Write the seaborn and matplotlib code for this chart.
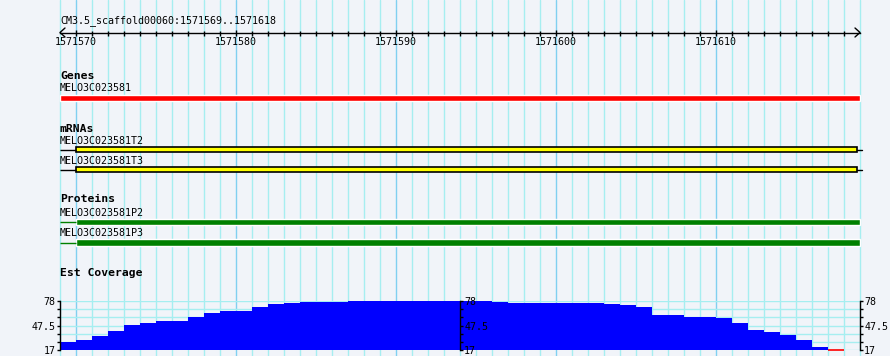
import numpy as np
import pandas as pd
import matplotlib
matplotlib.use('Agg')
import matplotlib.pyplot as plt
import seaborn as sns

# view window
ref_name = 'CM3.5_scaffold00060'
view_start = 1571569
view_end = 1571618
ruler_labels = [1571570, 1571580, 1571590, 1571600, 1571610]

# features
gene_names = ['MELO3C023581']
gene_starts = [1571569]
gene_ends = [1571619]

mrna_names = ['MELO3C023581T2', 'MELO3C023581T3']
mrna_starts = [1571569, 1571569]
mrna_box_starts = [1571570, 1571570]
mrna_ends = [1571619, 1571619]

protein_names = ['MELO3C023581P2', 'MELO3C023581P3']
protein_starts = [1571569, 1571569]
protein_box_starts = [1571570, 1571570]
protein_ends = [1571619, 1571619]

# est coverage, one value per base from view_start
cov_min = 17
cov_mid = 47.5
cov_max = 78
coverage = [27, 29.5, 35, 41, 48.5, 51, 52.5, 53.5, 58.5, 63.5,
            66, 66, 71, 74.5, 76, 76.5, 77, 77, 77.5, 78,
            78, 78, 78, 78, 78, 78, 78, 77, 76, 76,
            76, 76, 76, 76, 74.5, 73, 70.5, 61, 61, 58.5,
            58.5, 57, 51, 42, 39, 36, 29.5, 21, 17]

bg = '#F1F4F9'
minor_c = '#A6EEF0'
major_c = '#80D0F0'

sns.set_style('white')
plt.rcParams['font.family'] = ['DejaVu Sans Mono']
plt.rcParams['text.color'] = 'black'
plt.rcParams['xtick.labelcolor'] = 'black'
plt.rcParams['ytick.labelcolor'] = 'black'
small = 7.2
bold = 8.2

W, H = 890, 356
fig = plt.figure(figsize=(W / 100, H / 100), dpi=100)
fig.patch.set_facecolor(bg)

# main canvas: x in bases, y in pixels from the top
ax = fig.add_axes([0, 0, 1, 1])
ax.set_xlim(view_start - 60 / 16, view_start + (W - 60) / 16)
ax.set_ylim(H, 0)
ax.set_facecolor(bg)
ax.set_xticks(ruler_labels)
ax.set_xticks([p for p in range(view_start, view_end + 2) if p not in ruler_labels], minor=True)
ax.grid(which='minor', axis='x', color=minor_c, lw=1)
ax.grid(which='major', axis='x', color=major_c, lw=1)
ax.tick_params(which='both', length=0, labelbottom=False, labelleft=False)
for s in ax.spines.values():
    s.set_visible(False)
ax.set_axisbelow(True)

# title and ruler
ax.text(view_start, 21, f'{ref_name}:{view_start}..{view_end}', fontsize=small,
        va='center', ha='left')
ax.plot([view_start + 5 / 16, view_start, view_start + 5 / 16], [28, 32.5, 37], color='k', lw=1)
ax.plot([view_end + 1 - 5 / 16, view_end + 1, view_end + 1 - 5 / 16], [28, 32.5, 37], color='k', lw=1)

ruler = fig.add_axes([60 / W, 1 - 33 / H, 800 / W, 1 / H])
ruler.patch.set_visible(False)
ruler.set_xlim(view_start, view_end + 1)
for k in ['top', 'left', 'right']:
    ruler.spines[k].set_visible(False)
ruler.spines['bottom'].set_linewidth(1)
ruler.spines['bottom'].set_color('k')
ruler.set_yticks([])
ruler.set_xticks(ruler_labels)
ruler.set_xticklabels([str(v) for v in ruler_labels])
ruler.set_xticks([p for p in range(view_start + 1, view_end + 1) if p not in ruler_labels], minor=True)
ruler.tick_params(which='major', bottom=True, direction='inout', length=5, width=1, pad=0.5,
                  labelsize=small, color='k')
ruler.tick_params(which='minor', bottom=True, direction='inout', length=3.6, width=1, color='k')

# Genes
ax.text(view_start, 76, 'Genes', fontsize=bold, fontweight='bold', va='center')
for name, s, e in zip(gene_names, gene_starts, gene_ends):
    ax.text(view_start, 88, name, fontsize=small, va='center')
    ax.barh(97.7, e - s, left=s, height=6, color='#FF0000')

# mRNAs
ax.text(view_start, 128.5, 'mRNAs', fontsize=bold, fontweight='bold', va='center')
for i, (name, s, bs, e) in enumerate(zip(mrna_names, mrna_starts, mrna_box_starts, mrna_ends)):
    ty = 140.5 + i * 20
    yc = 149.7 + i * 20
    ax.text(view_start, ty, name, fontsize=small, va='center')
    ax.hlines(yc, s, bs, color='k', lw=1)
    ax.barh(yc, e - bs - 0.2, left=bs, height=4.5, color='#FFFF00', edgecolor='k', lw=1.2)
    ax.plot([e - 0.2, e + 0.15], [yc, yc], color='k', lw=1)

# Proteins
ax.text(view_start, 199.5, 'Proteins', fontsize=bold, fontweight='bold', va='center')
for i, (name, s, bs, e) in enumerate(zip(protein_names, protein_starts, protein_box_starts, protein_ends)):
    ty = 212.7 + i * 20.5
    yc = 222 + i * 20.7
    ax.text(view_start, ty, name, fontsize=small, va='center')
    ax.hlines(yc, s, bs, color='#008000', lw=1)
    ax.barh(yc, e - bs, left=bs, height=6.5, color='#008000')

# Est coverage
ax.text(view_start, 273.5, 'Est Coverage', fontsize=bold, fontweight='bold', va='center')

positions = np.arange(view_start, view_start + len(coverage))
cov_vals = np.array(coverage, dtype=float)
cov_df = pd.DataFrame({'pos': positions + 0.5, 'depth': cov_vals})
levels = np.linspace(cov_min, cov_max, 7)

cov = fig.add_axes([60 / W, 1 - 350 / H, 800 / W, 49 / H])
cov.patch.set_visible(False)
sns.histplot(data=cov_df, x='pos', weights='depth', binwidth=1,
             binrange=(view_start, view_end + 1),
             color='#0000FF', alpha=1, linewidth=0, ax=cov)
zero = cov_vals <= cov_min
cov.hlines(np.full(zero.sum(), cov_min + 0.6), positions[zero], positions[zero] + 1,
           color='#FF0000', lw=1.2, clip_on=False)
cov.set_xlim(view_start, view_end + 1)
cov.set_ylim(cov_min, cov_max)
cov.set_xlabel('')
cov.set_ylabel('')
cov.set_xticks([])
cov.set_yticks([cov_min, cov_mid, cov_max])
cov.set_yticklabels(['17', '47.5', '78'])
cov.set_yticks([v for v in levels if v not in (cov_min, cov_mid, cov_max)], minor=True)
cov.grid(axis='y', which='both', color=minor_c, lw=1)
cov.set_axisbelow(True)
for k in ['top', 'bottom']:
    cov.spines[k].set_visible(False)
for k in ['left', 'right']:
    cov.spines[k].set_color('k')
    cov.spines[k].set_linewidth(1)
cov.tick_params(axis='y', which='both', left=True, right=True, labelleft=True, labelright=True,
                direction='out', length=2.5, width=1, pad=0.5, labelsize=small, color='k')

# middle scale
mid = fig.add_axes([60 / W, 1 - 350 / H, 400 / W, 49 / H])
mid.patch.set_visible(False)
mid.set_xlim(0, 1)
mid.set_ylim(cov_min, cov_max)
mid.set_xticks([])
for k in ['top', 'bottom', 'left']:
    mid.spines[k].set_visible(False)
mid.spines['right'].set_color('k')
mid.spines['right'].set_linewidth(1)
mid.yaxis.set_ticks_position('right')
mid.set_yticks([cov_min, cov_mid, cov_max])
mid.set_yticklabels(['17', '47.5', '78'])
mid.set_yticks([v for v in levels if v not in (cov_min, cov_mid, cov_max)], minor=True)
mid.tick_params(axis='y', which='both', right=True, direction='out', length=2.5, width=1, pad=0.5,
                labelsize=small, color='k')

fig.savefig('out.png', dpi=100, facecolor=bg)
